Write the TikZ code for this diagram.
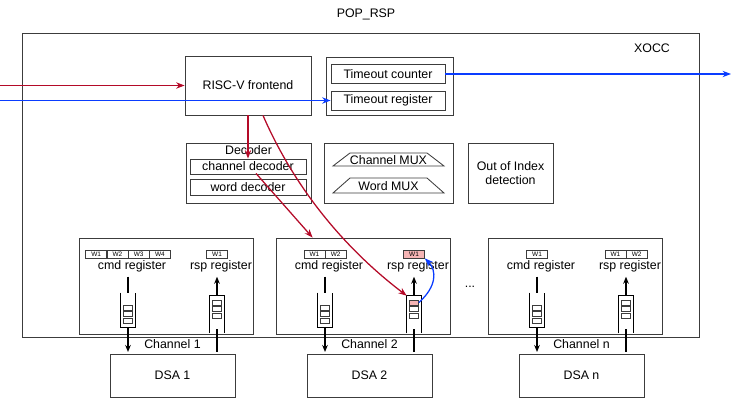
\documentclass[tikz,border=0pt]{standalone}
\usepackage{fontspec}
\setmainfont{Liberation Sans}
\usetikzlibrary{arrows.meta}
\usetikzlibrary{calc}

\definecolor{xred}{RGB}{180,10,40}
\definecolor{xblue}{RGB}{10,60,255}
\definecolor{xpink}{RGB}{245,180,180}
\definecolor{xgray}{RGB}{60,60,60}

\tikzset{
  blk/.style 2 args={draw=xgray, line width=0.6pt, minimum width=#1*0.025cm, minimum height=#2*0.025cm, inner sep=0pt},
  wcell/.style={draw=xgray, line width=0.5pt, minimum width=21*0.025cm, minimum height=8*0.025cm, inner sep=0pt, font=\fontsize{4.6}{5}\selectfont},
  fifocell/.style={draw=xgray, line width=0.5pt, minimum width=9*0.025cm, minimum height=5*0.025cm, inner sep=0pt},
  fifobody/.style={minimum width=14*0.025cm, minimum height=#1*0.025cm, inner sep=0pt},
  fifowall/.style={black, line width=1.1pt},
  redarr/.style={xred, line width=0.9pt, -{Stealth[length=6pt,width=4.5pt]}},
  bluearr/.style={xblue, line width=0.9pt, -{Stealth[length=6pt,width=4.5pt]}},
  blkarr/.style={black, line width=0.9pt, -{Stealth[length=5pt,width=4pt]}},
}

\begin{document}
\begin{tikzpicture}[x=0.025cm, y=-0.025cm, font=\fontsize{8.8}{10}\selectfont]
  \useasboundingbox (0,0) rectangle (732,400);
  \node (title) at (366,14) {POP\_RSP};
  \draw[xgray, line width=0.6pt] (22,33) rectangle (699,337);
  \node (xocc) at (652,48) {XOCC};

  % frontend and timeout
  \node[blk={126}{59}] (frontend) at (248,85.5) {RISC-V frontend};
  \node[blk={127}{58}] (timeout) at (389.5,86) {};
  \node[blk={114}{19}] (tcounter) at (388,74) {Timeout counter};
  \node[blk={114}{19}] (tregister) at (388,100.5) {Timeout register};

  % decoder, mux, out of index
  \node[blk={125}{60}] (decoder) at (248.5,173) {};
  \node[anchor=north, inner sep=2.2pt] (declabel) at (decoder.north) {Decoder};
  \node[blk={116}{15}] (chdec) at (248,166.5) {channel decoder};
  \node[blk={116}{16}] (worddec) at (248,187) {word decoder};

  \node[blk={129}{60}] (mux) at (388.5,173) {};
  \draw[xgray, line width=0.6pt] (333,166) -- (350,153) -- (427,153) -- (444,166) -- cycle;
  \draw[xgray, line width=0.6pt] (333,193) -- (350,178) -- (427,178) -- (444,193) -- cycle;
  \node (chmux) at (388.5,160) {Channel MUX};
  \node (wordmux) at (388.5,186) {Word MUX};

  \node[blk={85}{60}, align=center] (ooi) at (510.5,173) {Out of Index\\detection};

  % channels
  \foreach \cx/\chid/\ncmd/\nrsp in {79/1/4/1, 276/2/2/1, 488/n/1/2} {
    \pgfmathsetmacro\cmdx{\cx+49}
    \pgfmathsetmacro\rspx{\cx+138}
    \node[blk={174}{96}] (ch\chid) at (\cx+87,286) {};
    \foreach \i in {1,...,\ncmd}
      \node[wcell] (cw\chid\i) at ({\cmdx+(\i-(\ncmd+1)/2)*21.25},254) {W\i};
    \foreach \i in {1,...,\nrsp}
      \node[wcell] (rw\chid\i) at ({\rspx+(\i-(\nrsp+1)/2)*21.25},254) {W\i};
    \node (cmdreg\chid) at (\cmdx+4,266) {cmd register};
    \node (rspreg\chid) at (\rspx+4,266) {rsp register};
    % cmd fifo
    \node[fifobody=34] (cmdfifo\chid) at (\cmdx,310) {};
    \draw[fifowall] (cmdfifo\chid.north west) -- (cmdfifo\chid.south west)
      -- (cmdfifo\chid.south east) -- (cmdfifo\chid.north east);
    \foreach \k in {0,1,2}
      \node[fifocell] (cmdcell\chid\k) at (\cmdx,{307.5+\k*6.5}) {};
    \draw[black, line width=0.9pt] (cmdfifo\chid.north |- cmdreg\chid.south) -- (cmdfifo\chid.north);
    \coordinate (cmdout\chid) at (\cmdx,352);
    \draw[blkarr] (cmdfifo\chid.south) -- (cmdout\chid);
    % rsp fifo
    \node[fifobody=37] (rspfifo\chid) at (\rspx,314.5) {};
    \draw[fifowall] (rspfifo\chid.south west) -- (rspfifo\chid.north west)
      -- (rspfifo\chid.north east) -- (rspfifo\chid.south east);
    \foreach \k in {0,1,2}
      \node[fifocell] (rspcell\chid\k) at (\rspx,{302.5+\k*6.5}) {};
    \draw[blkarr] (rspfifo\chid.north) -- (rspfifo\chid.north |- rspreg\chid.south);
    \coordinate (rspin\chid) at (\rspx,352);
    \draw[black, line width=0.9pt] (rspin\chid) -- ($(rspfifo\chid.south)+(0,-4)$);
    % channel label and DSA
    \node (chlabel\chid) at ({(\cmdx+\rspx)/2},344) {Channel \chid};
    \node[blk={125}{43}] (dsa\chid) at ({(\cmdx+\rspx)/2},375.5) {DSA \chid};
  }
  \node (dots) at (470,287) {...};

  % highlighted response word
  \node[wcell, fill=xpink] (rwhl) at (rw21) {W1};
  \node[fifocell, fill=xpink] (rspcellhl) at (rspcell20) {};

  % red paths
  \coordinate (redsrc) at (0,85.5);
  \draw[redarr] (redsrc) -- (frontend.west);
  \draw[redarr] (frontend.south) -- (chdec.north);
  \draw[redarr] ($(chdec.south)+(8,-1)$) -- ($(ch2.north west)+(37,0)$);
  \draw[redarr] ($(frontend.south)+(15,0)$) .. controls +(37,85) and +(-50,-38) .. (rspfifo2.north west);

  % blue paths
  \coordinate (bluesrc) at (0,100.5);
  \draw[bluearr] (bluesrc) -- (tregister.west);
  \coordinate (blueout) at (731,74);
  \draw[bluearr] (tcounter.east) -- (blueout);
  \draw[bluearr] (rspcellhl.east) .. controls +(18,-16) and +(12,12) .. (rwhl.south east);
\end{tikzpicture}
\end{document}
